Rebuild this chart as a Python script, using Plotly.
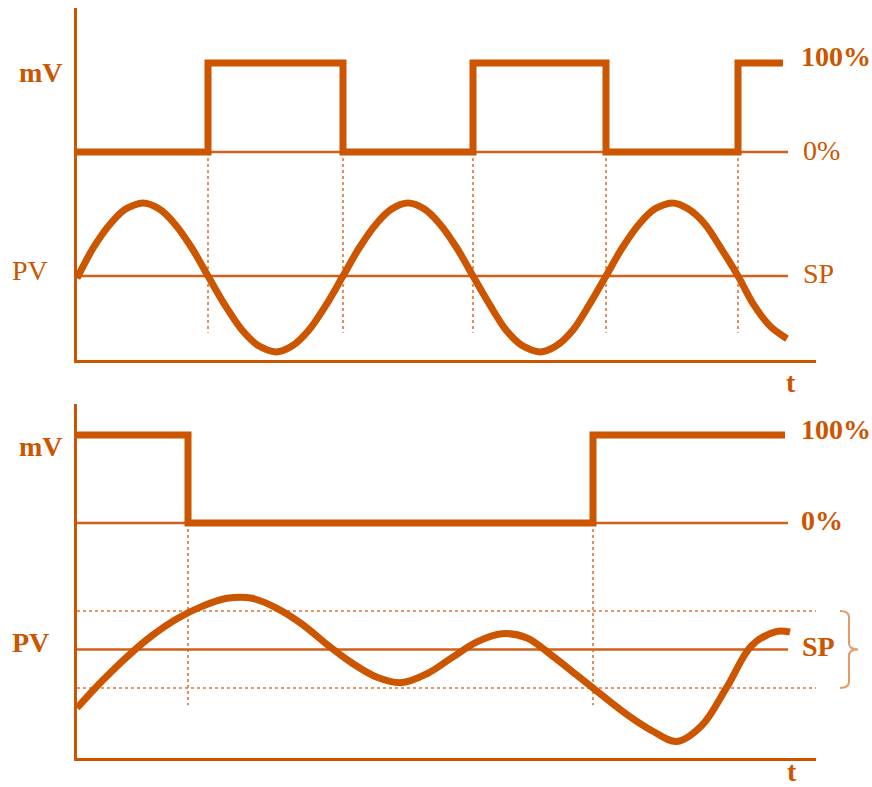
import plotly.graph_objects as go

# ---------------- data (time in arbitrary units, mV in %, PV in deviation units) ----------------
# Top panel: on/off control without dead band
top_mv_t = [0, 13.1, 26.6, 39.6, 52.9, 66.1, 70.6]
top_mv = [0, 100, 0, 100, 0, 100, 100]
top_pv_t = [0.0, 1.6, 3.3, 4.9, 6.6, 8.2, 9.8, 11.5, 13.1,
            14.8, 16.5, 18.2, 19.9, 21.5, 23.2, 24.9, 26.6,
            28.2, 29.9, 31.5, 33.1, 34.7, 36.3, 38.0, 39.6,
            41.3, 42.9, 44.6, 46.3, 47.9, 49.6, 51.2, 52.9,
            54.5, 56.2, 57.8, 59.5, 61.1, 62.8, 64.4, 66.1,
            67.7, 69.4, 71.0]
top_pv = [-0.03, 0.38, 0.71, 0.92, 1.0, 0.92, 0.71, 0.38, 0.0,
          -0.40, -0.74, -0.96, -1.04, -0.96, -0.74, -0.40, 0.0,
          0.38, 0.71, 0.92, 1.0, 0.92, 0.71, 0.38, 0.0,
          -0.40, -0.74, -0.96, -1.04, -0.96, -0.74, -0.40, 0.0,
          0.38, 0.71, 0.92, 1.0, 0.92, 0.71, 0.38, 0.0,
          -0.40, -0.70, -0.86]
top_switch_t = [13.1, 26.6, 39.6, 52.9, 66.1]
top_guide_bottom = -203          # in mV units
top_ref_end = 71.1

# Bottom panel: on/off control with dead band
bot_mv_t = [0, 11.1, 51.6, 70.8]
bot_mv = [100, 0, 100, 100]
bot_pv_t = [0.0, 2.5, 5.0, 7.5, 10.0, 12.5, 15.0, 17.5, 20.0, 22.5, 25.0, 27.5, 30.0,
            32.5, 35.0, 37.5, 40.0, 42.5, 45.0, 47.5, 50.0, 52.5, 55.0, 57.5, 60.0,
            62.5, 65.0, 67.5, 70.0, 71.3]
bot_pv = [-1.52, -0.82, -0.19, 0.36, 0.80, 1.12, 1.33, 1.33, 1.07, 0.66, 0.13, -0.35, -0.72,
          -0.86, -0.63, -0.21, 0.20, 0.41, 0.30, -0.16, -0.67, -1.19, -1.69, -2.11, -2.39,
          -1.97, -0.97, 0.11, 0.47, 0.45]
bot_switch_t = [11.1, 51.6]
bot_guide_bottom = -207          # in mV units
band_hi, band_lo = 1.0, -1.0
band_end = 74.2
bot_ref_end = 71.1
sp = 0.0

# ---------------- styling / layout helpers ----------------
W, H = 872, 787
C = '#CC5500'
C_THIN = '#D0601A'
C_DOT = '#D9783A'
C_LIGHT = '#E39A66'
FONT = 'Liberation Serif'

XDOM = [77 / W, 816 / W]
X_END = 73.9
TOP_DOM = [1 - 360 / H, 1 - 8 / H]
BOT_DOM = [1 - 758 / H, 1 - 404 / H]


def yrange(dom, p_a, v_a, p_b, v_b):
    d0, d1 = dom
    g = lambda p: ((1 - p / H) - d0) / (d1 - d0)
    s = (v_b - v_a) / (g(p_b) - g(p_a))
    r0 = v_a - g(p_a) * s
    return [r0, r0 + s]


def to_paper_y(v, dom, rng):
    return dom[0] + (v - rng[0]) / (rng[1] - rng[0]) * (dom[1] - dom[0])


Y1R = yrange(TOP_DOM, 152, 0, 63, 100)
Y2R = yrange(TOP_DOM, 276, 0, 203, 1.0)
Y3R = yrange(BOT_DOM, 523, 0, 435, 100)
Y4R = yrange(BOT_DOM, 611, band_hi, 688, band_lo)

fig = go.Figure()


def line(x, y, xa, ya, color, width, dash=None, shape='linear', smoothing=None):
    ln = dict(color=color, width=width, shape=shape)
    if dash:
        ln['dash'] = dash
    if smoothing is not None:
        ln['smoothing'] = smoothing
    fig.add_trace(go.Scatter(x=x, y=y, xaxis=xa, yaxis=ya, mode='lines', line=ln,
                             hoverinfo='skip', showlegend=False))


# ---- top panel ----
line([0, top_ref_end], [0, 0], 'x', 'y', C_THIN, 2.5)
line([0, top_ref_end], [sp, sp], 'x', 'y2', C_THIN, 2.5)
for t in top_switch_t:
    line([t, t], [0, top_guide_bottom], 'x', 'y', C_DOT, 1.6, dash='dot')
line(top_mv_t, top_mv, 'x', 'y', C, 7, shape='hv')
line(top_pv_t, top_pv, 'x', 'y2', C, 7, shape='spline', smoothing=0.8)

# ---- bottom panel ----
line([0, bot_ref_end], [0, 0], 'x2', 'y3', C_THIN, 2.5)
line([0, bot_ref_end], [sp, sp], 'x2', 'y4', C_THIN, 2.5)
line([0, band_end], [band_hi, band_hi], 'x2', 'y4', C_DOT, 1.6, dash='dot')
line([0, band_end], [band_lo, band_lo], 'x2', 'y4', C_DOT, 1.6, dash='dot')
for t in bot_switch_t:
    line([t, t], [0, bot_guide_bottom], 'x2', 'y3', C_DOT, 1.6, dash='dot')
line(bot_mv_t, bot_mv, 'x2', 'y3', C, 7, shape='hv')
line(bot_pv_t, bot_pv, 'x2', 'y4', C, 7, shape='spline', smoothing=1.0)

# brace marking the dead band (outside the plot area -> paper coordinates)
yh = to_paper_y(band_hi, BOT_DOM, Y4R)
yl = to_paper_y(band_lo, BOT_DOM, Y4R)
ym = (yh + yl) / 2
qy = (yh - yl) * 0.08
bx0, bxm, bx1 = 840 / W, 849 / W, 858 / W
path = (f"M {bx0},{yh} Q {bxm},{yh} {bxm},{yh - qy} "
        f"L {bxm},{ym + qy} Q {bxm},{ym} {bx1},{ym} "
        f"Q {bxm},{ym} {bxm},{ym - qy} "
        f"L {bxm},{yl + qy} Q {bxm},{yl} {bx0},{yl}")
fig.add_shape(type='path', path=path, xref='paper', yref='paper',
              line=dict(color=C_LIGHT, width=2))

axis_line = dict(showline=True, linecolor=C, linewidth=3, showgrid=False, zeroline=False,
                 showticklabels=False, ticks='')
hidden = dict(showline=False, showgrid=False, zeroline=False, showticklabels=False, ticks='')

# x range extended so the dotted band lines reach slightly past the axis end
fig.update_layout(
    width=W, height=H, autosize=False,
    margin=dict(l=0, r=0, t=0, b=0),
    paper_bgcolor='white', plot_bgcolor='rgba(0,0,0,0)',
    showlegend=False,
    xaxis=dict(domain=XDOM, range=[0, X_END], anchor='y', **axis_line),
    yaxis=dict(domain=TOP_DOM, range=Y1R, anchor='x', **axis_line),
    yaxis2=dict(domain=TOP_DOM, range=Y2R, anchor='x', overlaying='y', **hidden),
    xaxis2=dict(domain=XDOM, range=[0, X_END], anchor='y3', **axis_line),
    yaxis3=dict(domain=BOT_DOM, range=Y3R, anchor='x2', **axis_line),
    yaxis4=dict(domain=BOT_DOM, range=Y4R, anchor='x2', overlaying='y3', **hidden),
)


def label(text, px, py, bold=True, size=28):
    fig.add_annotation(text=f"<b>{text}</b>" if bold else text,
                       x=px / W, y=1 - py / H, xref='paper', yref='paper',
                       showarrow=False, xanchor='center', yanchor='middle',
                       font=dict(family=FONT, size=size, color=C))


# top labels
label('mV', 41, 72)
label('PV', 30, 270, bold=False)
label('100%', 836, 57)
label('0%', 821, 150, bold=False)
label('SP', 818, 273, bold=False)
label('t', 791, 382)
# bottom labels
label('mV', 41, 446)
label('PV', 30, 642)
label('100%', 836, 429)
label('0%', 822, 520)
label('SP', 818, 646)
label('t', 792, 771)

fig.write_html("out.html", config={'displayModeBar': False},
               post_script="document.body.style.margin='0px';document.body.style.overflow='hidden';")
